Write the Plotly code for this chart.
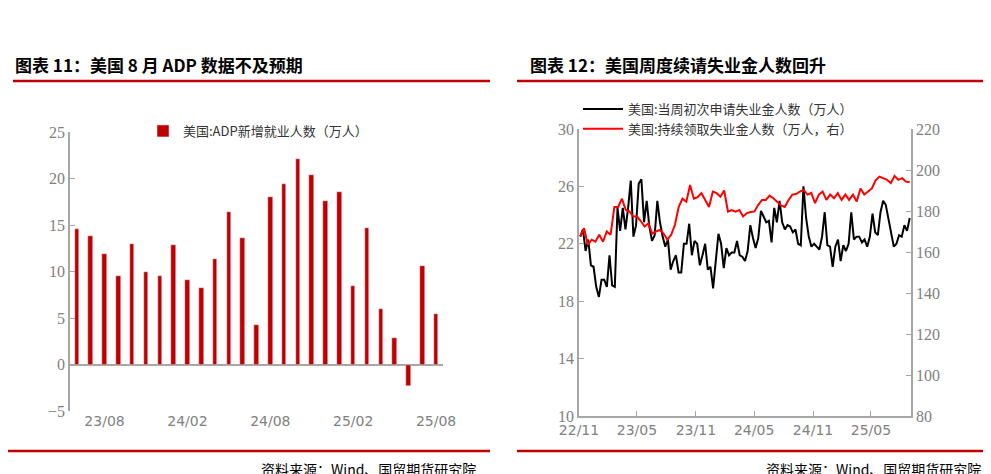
import pandas as pd
import plotly.graph_objects as go

# ---- Left: ADP ----
adp_months = pd.date_range("2023-06-01", "2025-08-01", freq="MS")
adp_values = [14.6, 13.8, 11.9, 9.5, 13.0, 10.0, 9.5, 12.9, 9.1, 8.2, 11.3, 16.4, 13.6, 4.2,
              18.0, 19.4, 22.1, 20.4, 17.6, 18.6, 8.4, 14.7, 6.0, 2.9, -2.3, 10.6, 5.4]
adp_ticks = ["23/08", "24/02", "24/08", "25/02", "25/08"]

# ---- Right: claims ----
initial_claims = [22.5, 23.0, 21.5, 22.3, 20.5, 20.4, 19.0, 18.3, 19.5, 19.5, 19.0, 21.2, 19.1, 19.0,
                  24.5, 22.9, 24.5, 23.0, 24.5, 26.4, 22.5, 23.3, 26.2, 26.5, 23.5, 25.0, 23.2, 22.2,
                  22.6, 25.0, 23.5, 22.5, 21.8, 22.3, 20.2, 20.8, 21.2, 20.0, 20.0, 22.0, 22.0, 23.4,
                  21.2, 22.2, 22.0, 20.5, 21.2, 22.0, 20.2, 20.4, 18.9, 21.0, 22.7, 22.0, 20.3, 21.7,
                  21.2, 21.4, 21.4, 22.2, 21.2, 21.1, 20.8, 21.5, 23.3, 22.4, 21.7, 22.4, 24.3, 23.9,
                  23.5, 23.6, 22.1, 24.5, 23.5, 25.0, 23.5, 23.0, 23.3, 23.2, 22.8, 23.0, 22.0, 21.9,
                  26.0, 23.8, 22.5, 21.8, 22.0, 21.8, 21.6, 22.5, 24.2, 21.9, 21.8, 20.4, 21.8, 22.3,
                  20.8, 21.9, 21.5, 22.0, 24.2, 22.3, 22.5, 22.5, 22.1, 22.3, 21.8, 22.5, 24.1, 22.8,
                  22.6, 24.2, 25.0, 24.7, 23.7, 22.8, 21.8, 22.0, 22.6, 22.5, 23.3, 22.9, 23.8]
continuing_claims = [167.6, 171.6, 163.5, 166.0, 165.0, 168.4, 165.0, 170.0, 168.4, 182.0, 182.0, 186.0,
                     180.6, 179.7, 177.3, 177.3, 175.0, 172.4, 174.0, 169.0, 170.0, 170.8, 169.0, 166.0,
                     168.4, 173.3, 182.0, 186.0, 184.5, 192.7, 186.0, 186.8, 188.7, 185.4, 182.0, 189.5,
                     188.7, 187.0, 190.0, 179.7, 180.5, 179.7, 180.5, 177.3, 179.0, 179.5, 179.8, 183.0,
                     185.4, 185.4, 187.5, 186.2, 184.6, 182.7, 182.0, 185.4, 188.0, 188.3, 189.5, 190.3,
                     188.0, 188.8, 183.8, 188.0, 189.5, 185.4, 188.0, 186.2, 188.7, 185.4, 188.0, 185.4,
                     188.0, 184.6, 191.0, 188.0, 189.5, 191.0, 195.0, 196.8, 196.0, 195.2, 193.6, 197.1,
                     195.2, 196.0, 194.3, 194.0]
claims_ticks = ["22/11", "23/05", "23/11", "24/05", "24/11", "25/05"]

init_dates = pd.date_range("2022-11-05", "2025-08-30", periods=len(initial_claims))
cont_dates = pd.date_range("2022-11-05", "2025-08-30", periods=len(continuing_claims))

RED = "#c00000"
GRAY = "#808080"
AX = "#a6a6a6"
W, H = 991, 474

def px(x): return x / W
def py(y): return 1 - y / H

fig = go.Figure()
fig.add_trace(go.Bar(x=list(range(len(adp_values))), y=adp_values, marker_color=RED, width=0.33,
                     name="美国:ADP新增就业人数（万人）", xaxis="x", yaxis="y", legend="legend"))
fig.add_trace(go.Scatter(x=init_dates, y=initial_claims, mode="lines", line=dict(color="black", width=2),
                         name="美国:当周初次申请失业金人数（万人）", xaxis="x2", yaxis="y2", legend="legend2"))
fig.add_trace(go.Scatter(x=cont_dates, y=continuing_claims, mode="lines", line=dict(color="#ff0000", width=2),
                         name="美国:持续领取失业金人数（万人，右）", xaxis="x2", yaxis="y3", legend="legend2"))

adp_labels = [d.strftime("%y/%m") for d in adp_months]
tickidx = [adp_labels.index(t) for t in adp_ticks]
tick_dates = [pd.Timestamp("20" + t[:2] + "-" + t[3:] + "-01") for t in claims_ticks]

numfont = dict(family="Liberation Serif", size=16, color=GRAY)
datefont = dict(family="DejaVu Sans", size=14, color=GRAY)
common = dict(showgrid=False, automargin=False, tickcolor=AX, ticklen=5, linecolor=AX, linewidth=1.5)

fig.update_layout(
    width=W, height=H, margin=dict(l=0, r=0, t=0, b=0, autoexpand=False),
    paper_bgcolor="white", plot_bgcolor="white", showlegend=True, bargap=0,
    xaxis=dict(domain=[px(62), px(435)], range=[-0.5, len(adp_values) - 0.5], tickvals=tickidx,
               ticktext=adp_ticks, tickfont=datefont, showline=False, ticks="", anchor="y",
               **{k: v for k, v in common.items() if k not in ("linecolor", "linewidth")}),
    yaxis=dict(domain=[py(403), py(124)], range=[-5, 25], dtick=5, tickfont=numfont,
               showline=True, ticks="inside", zeroline=True, zerolinecolor=AX, zerolinewidth=1.5,
               anchor="x", **common),
    xaxis2=dict(domain=[px(571), px(903)], range=[pd.Timestamp("2022-11-01"), pd.Timestamp("2025-09-03")],
                tickvals=tick_dates, ticktext=claims_ticks, tickfont=datefont,
                showline=True, ticks="inside", anchor="y2", **common),
    yaxis2=dict(domain=[py(408), py(121)], range=[10, 30], tick0=10, dtick=4, tickfont=numfont,
                showline=True, ticks="inside", zeroline=False, anchor="x2", **common),
    yaxis3=dict(overlaying="y2", side="right", range=[80, 220], tick0=80, dtick=20, tickfont=numfont,
                showline=True, ticks="inside", zeroline=False, anchor="x2", **common),
    legend=dict(x=px(250), y=py(108), xanchor="center", yanchor="top", orientation="h",
                font=dict(family="Noto Sans CJK SC", size=13, color="#333"), bgcolor="rgba(0,0,0,0)"),
    legend2=dict(x=px(570), y=py(86), xanchor="left", yanchor="top", orientation="v",
                 font=dict(family="Noto Sans CJK SC", size=13, color="#333"), bgcolor="rgba(0,0,0,0)",
                 tracegroupgap=2, itemwidth=40),
)

titles = [("图表 11：美国 8 月 ADP 数据不及预期", 5), ("图表 12：美国周度续请失业金人数回升", 520)]
for t, x in titles:
    fig.add_annotation(text=t, x=px(x), y=py(57), xref="paper", yref="paper", xanchor="left",
                       yanchor="middle", showarrow=False,
                       font=dict(family="Noto Sans CJK SC", size=17, color="black", weight="bold"))
for x0, x1 in [(5, 482), (509, 991)]:
    fig.add_shape(type="line", xref="paper", yref="paper", x0=px(x0), x1=px(x1), y0=py(73), y1=py(73),
                  line=dict(color=RED, width=2.5))
for x0, x1 in [(0, 482), (509, 991)]:
    fig.add_shape(type="line", xref="paper", yref="paper", x0=px(x0), x1=px(x1), y0=py(443), y1=py(443),
                  line=dict(color=RED, width=2.5))
for x in [470, 975]:
    fig.add_annotation(text="资料来源：Wind、国贸期货研究院", x=px(x), y=py(461), xref="paper", yref="paper",
                       xanchor="right", yanchor="middle", showarrow=False,
                       font=dict(family="Noto Sans CJK SC", size=14, color="black"))

fig.write_html("out.html")
